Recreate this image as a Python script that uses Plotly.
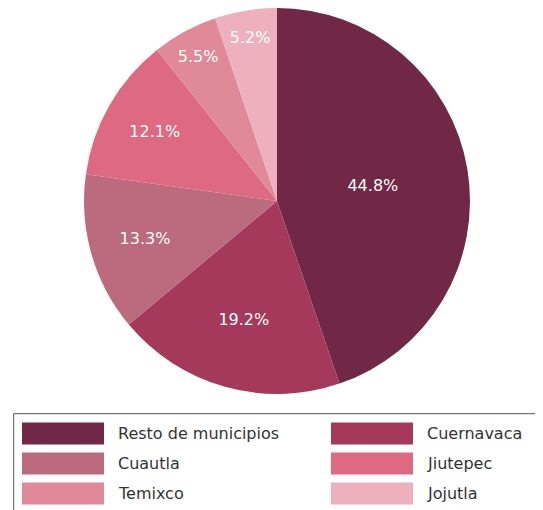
import plotly.graph_objects as go

categories = ["Resto de municipios", "Cuernavaca", "Cuautla", "Jiutepec", "Temixco", "Jojutla"]
values = [44.8, 19.2, 13.3, 12.1, 5.5, 5.2]
colors = ["#712746", "#A4395B", "#BC6A7D", "#DD6A82", "#E08998", "#EEB0BC"]

# the page adds an 8px body margin; work in reference pixel coords minus 8
OFF = 8
W, H = 543 - OFF, 510 - OFF
FONT = "DejaVu Sans"


def px(x):
    return (x - OFF) / W


def py(y):
    return min(1.0, max(0.0, (H - (y - OFF)) / H))


fig = go.Figure()
fig.add_trace(go.Pie(
    labels=categories,
    values=values,
    marker=dict(colors=colors, line=dict(width=0)),
    sort=False,
    direction="clockwise",
    rotation=0,
    texttemplate="%{value:.1f}%",
    textposition="inside",
    insidetextorientation="horizontal",
    textfont=dict(color="white", size=16, family=FONT),
    hoverinfo="label+percent",
    showlegend=False,
    domain=dict(x=[px(84), px(470)], y=[py(394), py(8)]),
))

shapes = [dict(type="rect", xref="paper", yref="paper",
               x0=px(13.7), x1=px(540.5), y0=-0.02, y1=py(413.7),
               line=dict(color="#555555", width=1), fillcolor="rgba(0,0,0,0)")]
annotations = []
for i, (lab, col) in enumerate(zip(categories, colors)):
    c, r = i % 2, i // 2
    yc = 433.5 + r * 30
    sx = 22 if c == 0 else 331
    tx = 116 if c == 0 else 425
    shapes.append(dict(type="rect", xref="paper", yref="paper",
                       x0=px(sx), x1=px(sx + 82),
                       y0=py(yc + 11), y1=py(yc - 11),
                       line=dict(width=0), fillcolor=col))
    annotations.append(dict(text=lab, xref="paper", yref="paper",
                            x=px(tx), y=py(yc), xanchor="left", yanchor="middle",
                            showarrow=False, font=dict(size=16, color="#333333", family=FONT)))

fig.update_layout(
    width=W, height=H,
    margin=dict(l=0, r=0, t=0, b=0),
    paper_bgcolor="white",
    plot_bgcolor="white",
    shapes=shapes,
    annotations=annotations,
)

fig.write_html("out.html")
